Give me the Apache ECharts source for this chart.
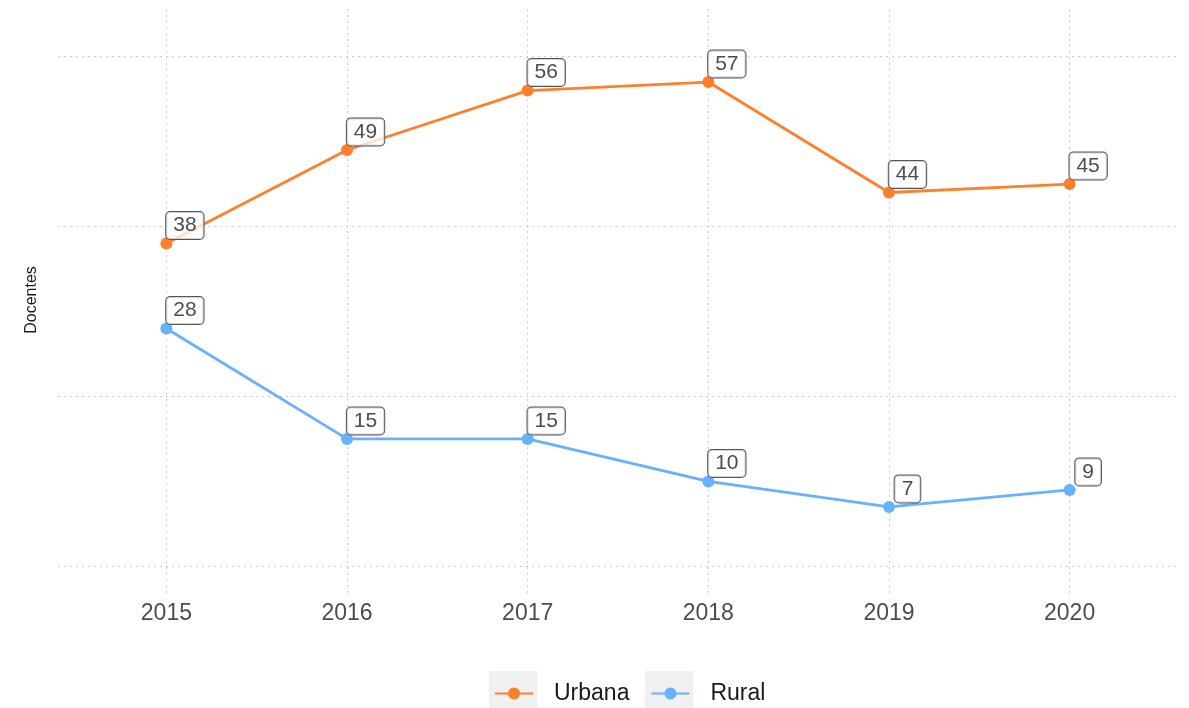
<!DOCTYPE html>
<html>
<head>
<meta charset="utf-8">
<title>Docentes por área</title>
<script src="https://cdn.jsdelivr.net/npm/echarts@6/dist/echarts.min.js"></script>
<style>
  html, body { margin: 0; padding: 0; background: #ffffff; }
  #chart { width: 1189px; height: 708px; }
</style>
</head>
<body>
<div id="chart"></div>
<script>
// Teachers per year, split by area
const years = [2015, 2016, 2017, 2018, 2019, 2020];
const urbana = [38, 49, 56, 57, 44, 45];
const rural = [28, 15, 15, 10, 7, 9];
const seriesNames = ['Urbana', 'Rural'];
const gridYValues = [0, 20, 40, 60];

const COLOR_URBANA = '#FF7F2A';
const COLOR_RURAL = '#66B2FF';
const FONT = '"Liberation Sans", Arial, Helvetica, sans-serif';

const pairs = (vals) => years.map((y, i) => [y, vals[i]]);

const pointLabel = {
  show: true,
  position: 'inside',
  offset: [18.5, -18],
  fontFamily: FONT,
  fontSize: 21,
  lineHeight: 21,
  color: '#4D4D4D',
  backgroundColor: 'rgba(255,255,255,0.75)',
  borderColor: '#555555',
  borderWidth: 1,
  borderRadius: 4,
  padding: [3, 7, 3, 7],
  formatter: (p) => String(p.value[1])
};

const gridLineStyle = { color: '#CFCFCF', type: [2, 4], width: 1 };

const chart = echarts.init(document.getElementById('chart'), null, { renderer: 'canvas' });

chart.setOption({
  backgroundColor: '#FFFFFF',
  animation: false,
  grid: { left: 58, right: 11, top: 7, bottom: 115, containLabel: false },
  xAxis: {
    type: 'value',
    min: 2014.4,
    max: 2020.6,
    axisLine: { show: false },
    axisTick: { show: false },
    splitLine: { show: false },
    axisLabel: {
      customValues: years,
      formatter: (v) => String(v),
      fontFamily: FONT,
      fontSize: 23,
      color: '#4D4D4D',
      margin: 9
    }
  },
  yAxis: {
    type: 'value',
    min: -3.135,
    max: 65.835,
    name: 'Docentes',
    nameLocation: 'middle',
    nameGap: 18,
    nameRotate: 90,
    nameTextStyle: { fontFamily: FONT, fontSize: 16, color: '#1A1A1A' },
    axisLine: { show: false },
    axisTick: { show: false },
    axisLabel: { show: false },
    splitLine: { show: false }
  },
  legend: {
    data: seriesNames,
    left: 489,
    top: 677,
    itemWidth: 38,
    itemHeight: 15,
    itemGap: 21,
    textStyle: { fontFamily: FONT, fontSize: 23, color: '#1A1A1A', padding: [0, 0, 0, 16] }
  },
  graphic: [
    { type: 'rect', left: 489, top: 671, shape: { width: 48, height: 40 }, style: { fill: '#F0F0F0' }, z: -1, silent: true },
    { type: 'rect', left: 645, top: 671, shape: { width: 48, height: 40 }, style: { fill: '#F0F0F0' }, z: -1, silent: true }
  ],
  series: [
    {
      name: 'Urbana',
      type: 'line',
      data: pairs(urbana),
      symbol: 'circle',
      symbolSize: 12,
      color: COLOR_URBANA,
      lineStyle: { width: 2.8, color: COLOR_URBANA },
      itemStyle: { color: COLOR_URBANA },
      label: pointLabel,
      z: 3,
      markLine: {
        silent: true,
        symbol: 'none',
        label: { show: false },
        lineStyle: gridLineStyle,
        emphasis: { disabled: true },
        data: gridYValues.map((v) => ({ yAxis: v })).concat(years.map((y) => ({ xAxis: y }))),
        z: 1
      }
    },
    {
      name: 'Rural',
      type: 'line',
      data: pairs(rural),
      symbol: 'circle',
      symbolSize: 12,
      color: COLOR_RURAL,
      lineStyle: { width: 2.8, color: COLOR_RURAL },
      itemStyle: { color: COLOR_RURAL },
      label: pointLabel,
      z: 3
    }
  ]
});
</script>
</body>
</html>
